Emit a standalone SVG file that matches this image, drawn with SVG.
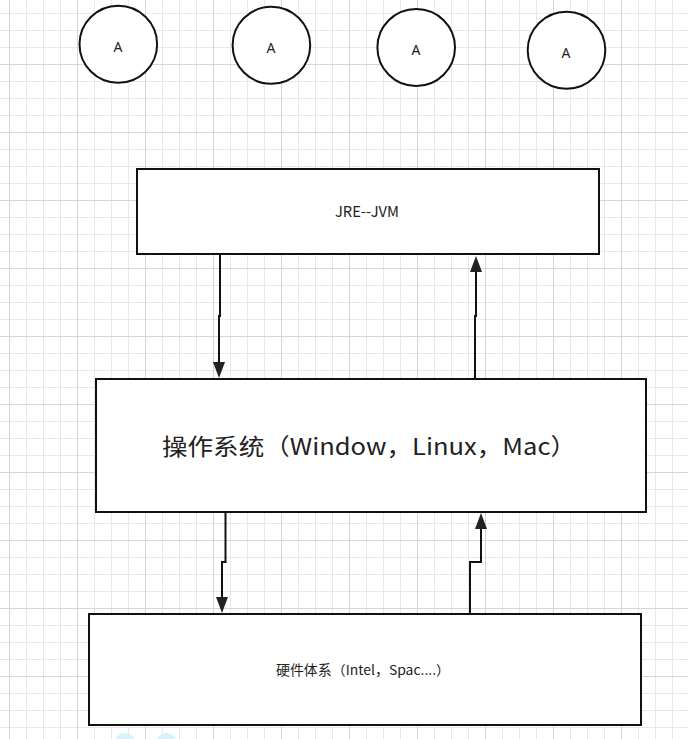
<svg xmlns="http://www.w3.org/2000/svg" width="688" height="739" viewBox="0 0 688 739">
  <style>
    .node-shape { fill: #ffffff; stroke: #111111; stroke-width: 2; }
    .circ-label { font-family: "Noto Sans", "Liberation Sans", sans-serif; font-size: 14px; fill: #222222; text-anchor: middle; }
    .label { font-family: "Noto Sans CJK SC", "Noto Sans", sans-serif; fill: #222222; }
    .conn { fill: none; stroke: #111111; stroke-width: 2; marker-end: url(#arrow); }
    .minor { stroke: #e8e8e8; stroke-width: 1; }
    .major { stroke: #d6d6d6; stroke-width: 1; }
  </style>
  <defs>
    <pattern id="grid" patternUnits="userSpaceOnUse" x="9" y="-4" width="68" height="68">
      <path class="minor" d="M17.5 0V68M34.5 0V68M51.5 0V68M0 17.5H68M0 34.5H68M0 51.5H68"/>
      <path class="major" d="M0.5 0V68M0 0.5H68"/>
    </pattern>
    <marker id="arrow" markerUnits="userSpaceOnUse" markerWidth="17" markerHeight="13" refX="0" refY="6" orient="auto" viewBox="0 0 17 12">
      <path d="M0,0 L16,6 L0,12 z" fill="#222222"/>
    </marker>
  </defs>

  <rect x="0" y="0" width="688" height="739" fill="#ffffff"/>
  <rect x="0" y="0" width="688" height="739" fill="url(#grid)"/>

  <g id="circle-1">
    <ellipse class="node-shape" cx="118.3" cy="44.2" rx="38.8" ry="38.5"/>
    <text class="circ-label" x="118" y="51.5">A</text>
  </g>
  <g id="circle-2">
    <ellipse class="node-shape" cx="271.4" cy="45.3" rx="38.8" ry="38.5"/>
    <text class="circ-label" x="271" y="52.5">A</text>
  </g>
  <g id="circle-3">
    <ellipse class="node-shape" cx="416.2" cy="47.5" rx="38.8" ry="38.5"/>
    <text class="circ-label" x="416" y="54.5">A</text>
  </g>
  <g id="circle-4">
    <ellipse class="node-shape" cx="566.5" cy="50.3" rx="38.8" ry="38.5"/>
    <text class="circ-label" x="566" y="57.5">A</text>
  </g>

  <g id="jre">
    <rect class="node-shape" x="137" y="169" width="462" height="85"/>
    <text class="label" x="335" y="217" style="font-size:15px" textLength="64" lengthAdjust="spacingAndGlyphs">JRE--JVM</text>
  </g>

  <g id="os">
    <rect class="node-shape" x="96" y="379" width="550" height="133"/>
    <text class="label" x="162" y="455" style="font-size:23px" textLength="414" lengthAdjust="spacingAndGlyphs">操作系统（Window，Linux，Mac）</text>
  </g>

  <g id="hardware">
    <rect class="node-shape" x="89" y="614" width="552" height="111"/>
    <text class="label" x="276" y="675" style="font-size:13.5px" textLength="174" lengthAdjust="spacingAndGlyphs">硬件体系（Intel，Spac....）</text>
  </g>

  <g id="connectors">
    <path class="conn" d="M220 255V316H219V362"/>
    <path class="conn" d="M475 379V316H476V272"/>
    <path class="conn" d="M225.5 512V562H222V597"/>
    <path class="conn" d="M470 614V562H481V529"/>
  </g>

  <g id="overlay-dots">
    <circle cx="125" cy="744" r="11" fill="#d9f1fb"/>
    <circle cx="166.5" cy="744" r="11" fill="#d9f1fb"/>
  </g>
</svg>
